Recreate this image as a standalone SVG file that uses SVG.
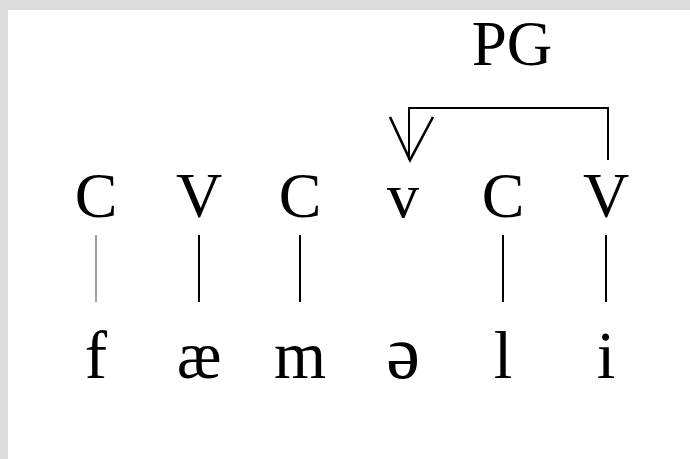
<svg xmlns="http://www.w3.org/2000/svg" width="690" height="459" viewBox="0 0 690 459">
<style>
.t{font-family:"Liberation Serif","DejaVu Serif",serif;font-size:64px;fill:#000;text-anchor:middle}
.b{font-family:"Liberation Serif","DejaVu Serif",serif;font-size:67px;fill:#000;text-anchor:middle}
.pg{font-family:"Liberation Serif","DejaVu Serif",serif;font-size:63px;fill:#000;text-anchor:middle}
.ln{stroke:#000;stroke-width:2;fill:none}
</style>
<rect x="0" y="0" width="690" height="459" fill="#dcdcdc"/>
<rect x="8" y="10" width="682" height="449" fill="#ffffff"/>
<g id="label-PG"><text class="pg" x="512" y="65">PG</text></g>
<g id="node-C1"><text class="t" x="96" y="217">C</text></g>
<g id="node-V1"><text class="t" x="199" y="217">V</text></g>
<g id="node-C2"><text class="t" x="300" y="217">C</text></g>
<g id="node-v"><text class="t" x="403" y="217">v</text></g>
<g id="node-C3"><text class="t" x="503" y="217">C</text></g>
<g id="node-V2"><text class="t" x="606" y="217">V</text></g>
<g id="seg-f"><text class="b" x="96" y="378">f</text></g>
<g id="seg-ae"><text class="b" x="199" y="378">æ</text></g>
<g id="seg-m"><text class="b" x="300" y="378">m</text></g>
<g id="seg-schwa"><text class="b" x="403" y="378" style="font-size:76px">ə</text></g>
<g id="seg-l"><text class="b" x="503" y="378">l</text></g>
<g id="seg-i"><text class="b" x="606" y="378">i</text></g>
<g id="connectors">
<line x1="96" y1="235" x2="96" y2="302" stroke="#a0a0a0" stroke-width="2"/>
<line class="ln" x1="199" y1="235" x2="199" y2="302"/>
<line class="ln" x1="300" y1="235" x2="300" y2="302"/>
<line class="ln" x1="503" y1="235" x2="503" y2="302"/>
<line class="ln" x1="606" y1="235" x2="606" y2="302"/>
<polyline class="ln" points="608,160 608,108 409,108 409,160"/>
<polyline class="ln" style="stroke-width:2.6" points="390,117 410,160 433,117"/>
</g>
</svg>
